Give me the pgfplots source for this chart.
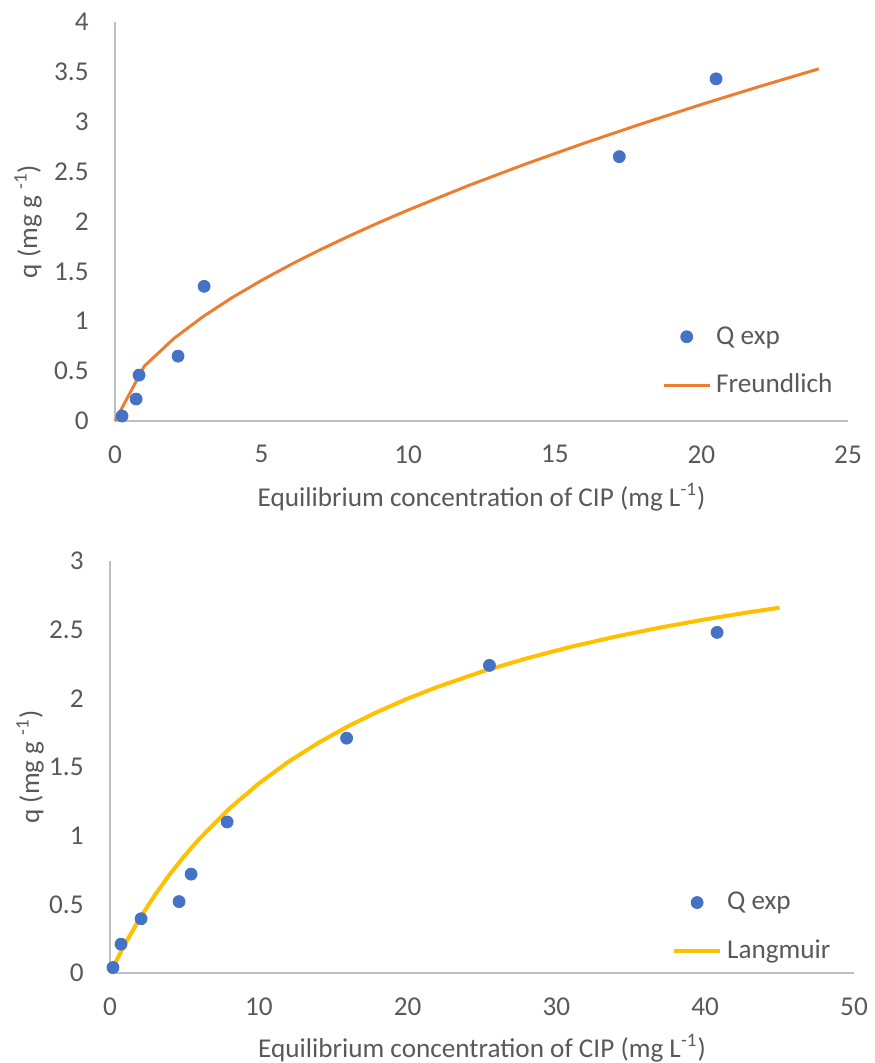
\documentclass[border=0pt]{standalone}
\usepackage{pgfplots}
\pgfplotsset{compat=1.18}
\usepackage{fontspec}
\setmainfont{Carlito}
\definecolor{xlblue}{HTML}{4472C4}
\definecolor{xlorange}{HTML}{ED7D31}
\definecolor{xlgold}{HTML}{FFC000}
\definecolor{txtgray}{HTML}{595959}
\definecolor{axgray}{HTML}{BFBFBF}
\newcommand{\lblfont}{\fontsize{13.6}{16}\selectfont}
\pgfplotsset{
  xlstyle/.style={
    scale only axis,
    axis x line=bottom, axis y line=left,
    axis line style={-, draw=axgray, line width=0.9pt},
    major tick length=0pt,
    tick style={draw=none},
    font=\lblfont,
    tick label style={text=txtgray, font=\lblfont},
    /pgf/number format/assume math mode=true,
    label style={text=txtgray, font=\lblfont},
    yticklabel style={anchor=east, inner sep=0pt, xshift=-13pt},
    xticklabel style={anchor=north, inner sep=0pt, yshift=-12pt},
    legend cell align=left,
    legend style={draw=none, fill=none, inner sep=0pt, text=txtgray,
      font=\lblfont, row sep=13.5pt, nodes={inner sep=0pt},
      /tikz/every odd column/.append style={column sep=2.5pt}},
    clip=false,
  },
  dotlegend/.style={legend image code/.code={
    \draw[##1, mark repeat=2, mark phase=2] plot coordinates {(0pt,0pt) (11.5pt,0pt) (23pt,0pt)};}},
  linelegend/.style={legend image code/.code={
    \draw[##1] (0pt,0pt) -- (23pt,0pt);}},
}
\begin{document}
\begin{tikzpicture}
\useasboundingbox (-57.5pt,-321pt) rectangle (379.5pt,210.5pt);

% Freundlich
\begin{axis}[xlstyle,
  width=366.5pt, height=199.5pt,
  xmin=0, xmax=25, ymin=0, ymax=4,
  xtick={0,5,...,25}, ytick={0,0.5,...,4},
  xlabel={Equilibrium concentration of CIP (mg L\textsuperscript{-1})},
  ylabel={q (mg g \textsuperscript{-1})},
  x label style={at={(axis description cs:0.5,-0.1905)}, anchor=center},
  y label style={at={(axis description cs:-0.1187,0.5)}, anchor=center},
  legend style={at={(rel axis cs:0.746,0.238)}, anchor=north west},
]
\addplot[only marks, mark=*, mark size=3pt, color=xlblue, dotlegend]
  coordinates {(0.24,0.05)(0.72,0.22)(0.82,0.46)(2.15,0.65)(3.04,1.35)(17.2,2.65)(20.5,3.43)};
\addlegendentry{Q exp}
\addplot[no markers, color=xlorange, line width=1.5pt, linelegend]
  coordinates {(0,0)(1,0.55)(2,0.825)(3,1.046)(4,1.238)(5,1.410)(6,1.569)(7,1.717)
  (8,1.856)(9,1.989)(10,2.115)(12,2.354)(14,2.576)(16,2.785)(18,2.983)(20,3.173)
  (22,3.355)(24,3.530)};
\addlegendentry{Freundlich}
\end{axis}

% Langmuir
\begin{axis}[xlstyle, at={(-2.5pt,-276pt)},
  width=372pt, height=206pt,
  xmin=0, xmax=50, ymin=0, ymax=3,
  xtick={0,10,...,50}, ytick={0,0.5,...,3},
  xlabel={Equilibrium concentration of CIP (mg L\textsuperscript{-1})},
  ylabel={q (mg g \textsuperscript{-1})},
  x label style={at={(axis description cs:0.5,-0.182)}, anchor=center},
  y label style={at={(axis description cs:-0.1075,0.5)}, anchor=center},
  legend style={at={(rel axis cs:0.755,0.197)}, anchor=north west},
]
\addplot[only marks, mark=*, mark size=3pt, color=xlblue, dotlegend]
  coordinates {(0.2,0.04)(0.74,0.21)(2.09,0.395)(4.64,0.52)(5.45,0.72)(7.87,1.10)
  (15.9,1.71)(25.5,2.24)(40.8,2.48)};
\addlegendentry{Q exp}
\addplot[no markers, color=xlgold, line width=2pt, linelegend]
  coordinates {(0,0)(1,0.210)(2,0.397)(3,0.565)(4,0.716)(5,0.852)(6,0.977)(8,1.195)
  (10,1.380)(12,1.539)(14,1.676)(16,1.797)(18,1.903)(20,1.998)(22,2.083)(25,2.195)
  (28,2.291)(31,2.376)(34,2.450)(37,2.516)(40,2.575)(43,2.628)(45,2.660)};
\addlegendentry{Langmuir}
\end{axis}
\end{tikzpicture}
\end{document}
